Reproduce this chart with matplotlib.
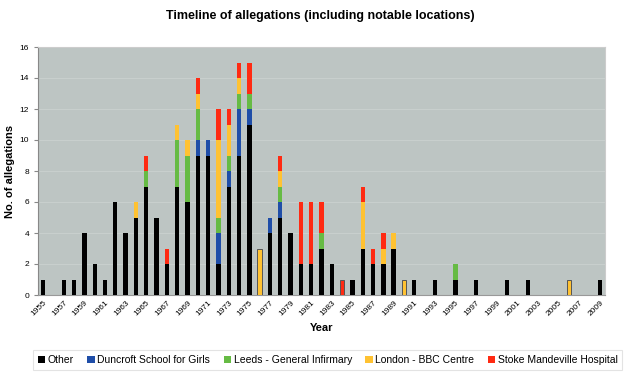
import matplotlib
matplotlib.use("Agg")
import matplotlib.pyplot as plt
import numpy as np

plt.rcParams['font.family'] = ['Liberation Sans', 'DejaVu Sans']

years = list(range(1955, 2010))
series_names = ["Other", "Duncroft School for Girls", "Leeds - General Infirmary",
                "London - BBC Centre", "Stoke Mandeville Hospital"]
colors = ["#000000", "#1F4EA8", "#66BB44", "#FFC232", "#FF2A12"]

other = {1955: 1, 1957: 1, 1958: 1, 1959: 4, 1960: 2, 1961: 1, 1962: 6, 1963: 4, 1964: 5,
         1965: 7, 1966: 5, 1967: 2, 1968: 7, 1969: 6, 1970: 9, 1971: 9, 1972: 2, 1973: 7,
         1974: 9, 1975: 11, 1977: 4, 1978: 5, 1979: 4, 1980: 2, 1981: 2, 1982: 3, 1983: 2,
         1985: 1, 1986: 3, 1987: 2, 1988: 2, 1989: 3, 1991: 1, 1993: 1, 1995: 1, 1997: 1,
         2000: 1, 2002: 1, 2009: 1}
duncroft = {1970: 1, 1971: 1, 1972: 2, 1973: 1, 1974: 3, 1975: 1, 1977: 1, 1978: 1}
leeds = {1965: 1, 1968: 3, 1969: 3, 1970: 2, 1972: 1, 1973: 1, 1974: 1, 1975: 1, 1978: 1,
         1982: 1, 1995: 1}
london = {1964: 1, 1968: 1, 1969: 1, 1970: 1, 1972: 5, 1973: 2, 1974: 1, 1976: 3, 1978: 1,
          1986: 3, 1988: 1, 1989: 1, 1990: 1, 2006: 1}
stoke = {1965: 1, 1967: 1, 1970: 1, 1972: 2, 1973: 1, 1974: 1, 1975: 2, 1978: 1, 1980: 4,
         1981: 4, 1982: 2, 1984: 1, 1986: 1, 1987: 1, 1988: 1}

data = [other, duncroft, leeds, london, stoke]

fig = plt.figure(figsize=(6.4, 3.87), dpi=100)
ax = fig.add_axes([38/640, 1-295/387, (605-38)/640, (295-47)/387])
ax.set_facecolor("#BDC5C3")

x = np.arange(len(years))
bottom = np.zeros(len(years))
for i, (name, d, c) in enumerate(zip(series_names, data, colors)):
    vals = np.array([d.get(y, 0) for y in years], dtype=float)
    edges = ["#555555" if (i > 0 and b == 0 and v > 0) else "none"
             for b, v in zip(bottom, vals)]
    ax.bar(x, vals, width=0.42, bottom=bottom, color=c, label=name,
           edgecolor=edges, linewidth=0.7, zorder=3)
    bottom += vals

ax.set_xlim(-0.5, len(years) - 0.5)
ax.set_ylim(0, 16)
ax.set_yticks(range(0, 17, 2))
ax.yaxis.grid(True, color="#C8CFCD", linewidth=0.8, zorder=0)
ax.set_xticks(x[::2])
ax.set_xticklabels([str(y) for y in years[::2]], rotation=45, ha="right",
                   rotation_mode="anchor", fontsize=6)
ax.tick_params(axis="y", labelsize=6, length=3, color="#888888")
ax.tick_params(axis="x", length=0, pad=3)
for s in ["top", "right"]:
    ax.spines[s].set_color("#CCCCCC")
ax.spines["left"].set_color("#888888")
ax.spines["bottom"].set_color("#999999")

ax.set_xlabel("Year", fontsize=8, fontweight="bold", labelpad=4)
ax.set_ylabel("No. of allegations", fontsize=8, fontweight="bold")
ax.yaxis.set_label_coords(-0.04, 0.5)
fig.suptitle("Timeline of allegations (including notable locations)", fontsize=9,
             fontweight="bold", y=0.975)

leg = fig.legend(loc="center", bbox_to_anchor=(0.512, 1-360/387), ncol=5, fontsize=7.5,
                 frameon=True, handlelength=0.7, handleheight=0.7, handletextpad=0.25,
                 columnspacing=1.3, borderpad=0.45, fancybox=False)
leg.get_frame().set_edgecolor("#DDDDDD")
leg.get_frame().set_linewidth(0.8)

fig.savefig("out.png", dpi=100)
